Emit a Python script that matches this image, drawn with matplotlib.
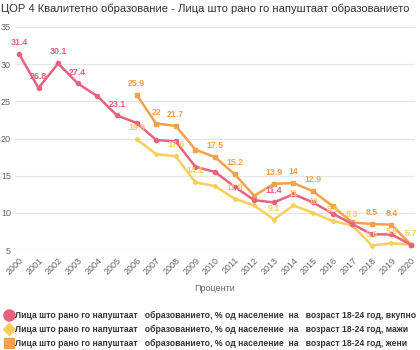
import matplotlib.pyplot as plt
from matplotlib.lines import Line2D

plt.rcParams['font.family'] = ['Liberation Sans', 'DejaVu Sans']

years = list(range(2000, 2021))

# вкупно (2000-2020)
total = [31.4, 26.8, 30.1, 27.4, 25.7, 23.1, 22.1, 19.8, 19.6, 16.2, 15.5,
         13.5, 11.7, 11.4, 12.5, 11.4, 9.9, 8.5, 7.1, 7.1, 5.7]
# мажи (2006-2020)
male_years = list(range(2006, 2021))
male = [19.9, 17.9, 17.6, 14.1, 13.6, 11.9, 11.0, 9.1, 11.0, 10.0, 8.9, 8.3,
        5.6, 5.9, 5.7]
# жени (2006-2020)
female = [25.9, 22.0, 21.7, 18.5, 17.5, 15.2, 12.3, 13.9, 14.0, 12.9, 10.9,
          8.7, 8.5, 8.4, 5.7]

# which points carry a visible value label
total_lab = [2000, 2001, 2002, 2003, 2005, 2013]
male_lab = [2006, 2008, 2009, 2011, 2013, 2014, 2015, 2016, 2017, 2018, 2019, 2020]
female_lab = [2006, 2007, 2008, 2010, 2011, 2013, 2014, 2015, 2018, 2019]

c_total = '#e9627e'
c_male = '#f8cf5f'
c_female = '#f2a14d'

title = 'ЦОР 4 Квалитетно образование - Лица што рано го напуштаат образованието'
base = 'Лица што рано го напуштаат   образованието, % од население  на   возраст 18-24 год, '
names = [base + 'вкупно', base + 'мажи', base + 'жени']

fig = plt.figure(figsize=(4.2, 3.5), dpi=100)
ax = fig.add_axes([15 / 420, 1 - 250 / 350, 400 / 420, 223 / 350])

ax.plot(years, total, color=c_total, lw=1.8, marker='o', ms=3, zorder=3)
ax.plot(male_years, male, color=c_male, lw=1.8, marker='D', ms=2.2, zorder=2)
ax.plot(male_years, female, color=c_female, lw=1.8, marker='s', ms=2.2, zorder=2)


def put_labels(xs, ys, which, col):
    for x, y in zip(xs, ys):
        if x in which:
            txt = ('%.1f' % y).rstrip('0').rstrip('.')
            ax.annotate(txt, (x, y), xytext=(0, 5), textcoords='offset points',
                        ha='center', va='bottom', fontsize=6.4, fontweight='bold',
                        color=col, zorder=5)


put_labels(years, total, total_lab, c_total)
put_labels(male_years, male, male_lab, c_male)
put_labels(male_years, female, female_lab, c_female)

ax.set_xlim(1999.8, 2020.2)
ax.set_ylim(5, 35)
ax.set_yticks([5, 10, 15, 20, 25, 30, 35])
ax.set_xticks(years)
ax.set_xticklabels([str(y) for y in years], rotation=45, ha='right',
                   rotation_mode='anchor')
ax.tick_params(length=0, labelsize=6.5, labelcolor='#666666')
ax.tick_params(axis='y', pad=3)
ax.tick_params(axis='x', pad=4)
ax.grid(axis='y', color='#e6e6e6', lw=0.9)
ax.set_axisbelow(True)
for s in ax.spines.values():
    s.set_visible(False)
ax.set_xlabel('Проценти', fontsize=6.5, color='#666666', labelpad=6)

fig.text(0.002, 0.99, title, fontsize=8.1, color='#333333', ha='left', va='top')

handles = [
    Line2D([], [], color=c_total, marker='o', ls='none', ms=8),
    Line2D([], [], color=c_male, marker='D', ls='none', ms=6.5),
    Line2D([], [], color=c_female, marker='s', ls='none', ms=6.5),
]
fig.legend(handles, names, loc='upper center', bbox_to_anchor=(0.5, 1 - 307 / 350),
           frameon=False, prop={'weight': 'bold', 'size': 6.2},
           labelcolor='#333333', handletextpad=0.2, labelspacing=0.55,
           handlelength=1.0, borderpad=0)

fig.savefig('out.png', dpi=100)
